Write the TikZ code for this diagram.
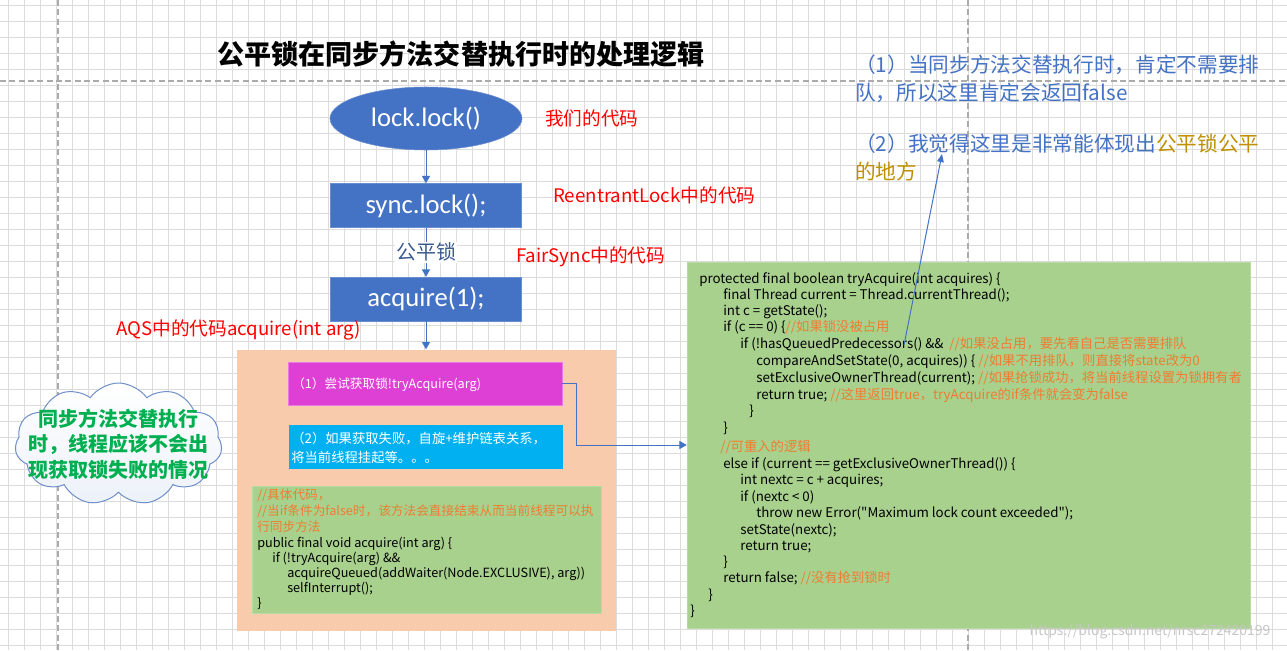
\documentclass[tikz,border=0pt]{standalone}
\usepackage{fontspec}
\setmainfont{Noto Sans CJK SC}[Ligatures=TeXOff]
\newfontfamily\officefont{Carlito}
\usepackage{tikz}
\usetikzlibrary{arrows.meta}
\usetikzlibrary{shapes.geometric,shapes.symbols}
\usetikzlibrary{positioning}

\definecolor{officeBlue}{HTML}{4472C4}
\definecolor{peachBox}{HTML}{F8CBAD}
\definecolor{cyanBox}{HTML}{00B0F0}
\definecolor{magentaBox}{HTML}{DE3FD5}
\definecolor{codeGreen}{HTML}{A9D18E}
\definecolor{commentOrange}{HTML}{ED7D31}
\definecolor{goldText}{HTML}{BF9000}
\definecolor{labelBlue}{HTML}{3B5A8F}
\definecolor{cloudGreen}{HTML}{00B050}
\definecolor{cloudBlue}{HTML}{6F8FC8}
\definecolor{gridGray}{HTML}{DCDCDC}
\definecolor{pageGray}{HTML}{ABABAB}

\begin{document}
\begin{tikzpicture}[x=0.75pt,y=-0.75pt]
    \newcommand{\codenote}[1]{\textcolor{commentOrange}{#1}}
    \tikzstyle{gridline}=[draw=gridGray, line width=0.75pt]
    \tikzstyle{pageline}=[draw=pageGray, line width=0.9pt, dash pattern=on 4.5pt off 2.5pt]
    \tikzstyle{flowedge}=[line width=0.75pt, draw=officeBlue, -{Triangle[width=6pt,length=5.5pt]}]
    \tikzstyle{flowbox}=[
      rectangle,
      fill=officeBlue,
      draw=officeBlue!80!white,
      text=white,
      minimum width=143.25pt,
      minimum height=33pt,
      font=\officefont\fontsize{20}{23}\selectfont,
    ]
    \tikzstyle{redtext}=[anchor=west, inner sep=0pt, text=red, font=\fontsize{14}{17}\selectfont]
    \tikzstyle{notetext}=[anchor=west, inner sep=0pt, align=left, text=officeBlue, font=\fontsize{15.5}{21}\selectfont]
    \tikzstyle{codeline}=[anchor=base west, inner sep=0pt, font=\fontsize{10}{12}\selectfont]
    \tikzstyle{smallcode}=[codeline, font=\fontsize{9.5}{11.6}\selectfont]

    \useasboundingbox (0,0) rectangle (1287,650);
    \fill[white] (0,0) rectangle (1287,650);

    % sheet grid
    {
      \foreach \gx in {8,24,...,1287} \draw[gridline] (\gx,0) -- (\gx,650);
      \foreach \gy in {5.5,21.5,...,650} \draw[gridline] (0,\gy) -- (1287,\gy);
      \draw[pageline] (58,0) -- (58,650);
      \draw[pageline] (968,0) -- (968,650);
      \draw[pageline] (0,81) -- (1287,81);
    }

    \node[font=\bfseries\fontsize{20.3}{24}\selectfont] (title) at (461,54) {公平锁在同步方法交替执行时的处理逻辑};

    % flow
    {
      \node[flowbox, ellipse, minimum width=144pt, minimum height=47.25pt] (lockNode) at (426,118.5) {lock.lock()};
      \node[flowbox, below=24.75pt of lockNode] (syncNode) {sync.lock();};
      \node[flowbox, below=36.75pt of syncNode] (acquireNode) {acquire(1);};

      \node[redtext] (ourCode) at (545,118) {我们的代码};
      \node[redtext] (reentrantCode) at (553,195) {ReentrantLock中的代码};
      \node[redtext] (fairCode) at (516,257) {FairSync中的代码};
      \node[redtext] (aqsCode) at (116,330) {AQS中的代码acquire(int arg)};

      \draw[flowedge] (lockNode)--(syncNode);
      \draw[flowedge] (syncNode)--(acquireNode) node[midway, fill=white, inner sep=1pt, text=labelBlue, font=\fontsize{15}{17}\selectfont] (fairLabel) {公平锁};
    }

    % AQS acquire
    {
      \node[rectangle, fill=peachBox, minimum width=284.25pt, minimum height=210.75pt, below=21pt of acquireNode] (aqsBox) {};
      \node[rectangle, fill=magentaBox, draw=magentaBox!70!white, minimum width=205.5pt, minimum height=32.25pt] (tryBox) at (425,383.5) {};
      \node[rectangle, fill=cyanBox, minimum width=205.5pt, minimum height=33pt] (failBox) at (426,447) {};
      \node[rectangle, fill=codeGreen, draw=codeGreen!80!white, minimum width=261.75pt, minimum height=95.25pt] (aqsCodeBox) at (426.5,549.5) {};

      \node[codeline, text=white, font=\fontsize{9.5}{11}\selectfont] (tryText) at (292,388) {（1）尝试获取锁!tryAcquire(arg)};
      \node[codeline, text=white] (failText1) at (291,443) {（2）如果获取失败，自旋+维护链表关系，};
      \node[codeline, text=white] (failText2) at (291,462) {将当前线程挂起等。。。};

      \node[smallcode] (aqs1) at (257,499) {\codenote{//具体代码，}};
      \node[smallcode] (aqs2) at (257,515) {\codenote{//当if条件为false时，该方法会直接结束从而当前线程可以执}};
      \node[smallcode] (aqs3) at (257,531) {\codenote{行同步方法}};
      \node[smallcode] (aqs4) at (257,547) {public final void acquire(int arg) \{};
      \node[smallcode] (aqs5) at (272,562) {if (!tryAcquire(arg) \&\&};
      \node[smallcode] (aqs6) at (287,577) {acquireQueued(addWaiter(Node.EXCLUSIVE), arg))};
      \node[smallcode] (aqs7) at (287,592) {selfInterrupt();};
      \node[smallcode] (aqs8) at (257,607) {\}};

      \draw[flowedge] (acquireNode)--(aqsBox);
    }

    % tryAcquire code
    {
      \node[rectangle, fill=codeGreen, draw=codeGreen!80!white, minimum width=422.25pt, minimum height=274.5pt] (codeBox) at (968.5,445) {};

      \node[codeline] (try1) at (699,283) {protected final boolean tryAcquire(int acquires) \{};
      \node[codeline] (try2) at (723,299) {final Thread current = Thread.currentThread();};
      \node[codeline] (try3) at (723,315) {int c = getState();};
      \node[codeline] (try4) at (723,331) {if (c == 0) \{\codenote{//如果锁没被占用}};
      \node[codeline] (try5) at (740,348) {if (!hasQueuedPredecessors() \&\&\ \ \codenote{//如果没占用，要先看自己是否需要排队}};
      \node[codeline] (try6) at (756,365) {compareAndSetState(0, acquires)) \{ \codenote{//如果不用排队，则直接将state改为0}};
      \node[codeline] (try7) at (756,382) {setExclusiveOwnerThread(current); \codenote{//如果抢锁成功，将当前线程设置为锁拥有者}};
      \node[codeline] (try8) at (756,399) {return true; \codenote{//这里返回true，tryAcquire的if条件就会变为false}};
      \node[codeline] (try9) at (749,415) {\}};
      \node[codeline] (try10) at (723,432) {\}};
      \node[codeline] (try11) at (720,451) {\codenote{//可重入的逻辑}};
      \node[codeline] (try12) at (723,468) {else if (current == getExclusiveOwnerThread()) \{};
      \node[codeline] (try13) at (740,484) {int nextc = c + acquires;};
      \node[codeline] (try14) at (740,501) {if (nextc < 0)};
      \node[codeline] (try15) at (756,517) {throw new Error("Maximum lock count exceeded");};
      \node[codeline] (try16) at (740,534) {setState(nextc);};
      \node[codeline] (try17) at (740,550) {return true;};
      \node[codeline] (try18) at (723,566) {\}};
      \node[codeline] (try19) at (723,582) {return false; \codenote{//没有抢到锁时}};
      \node[codeline] (try20) at (708,599) {\}};
      \node[codeline] (try21) at (690,615) {\}};

      \draw[flowedge] (tryBox.east) -- ++(14,0) |- (codeBox.west);
    }

    % notes
    {
      \node[notetext] (note1) at (855,79) {（1）当同步方法交替执行时，肯定不需要排\\队，所以这里肯定会返回false};
      \node[notetext] (note2) at (855,157.5) {（2）我觉得这里是非常能体现出\textcolor{goldText}{公平锁公平}\\\textcolor{goldText}{的地方}};

      \coordinate (fairStart) at (904,345);
      \coordinate (fairEnd) at (942,154);
      \draw[flowedge, -{Triangle[width=5pt,length=6pt]}] (fairStart)--(fairEnd);
    }

    % cloud
    {
      \node[cloud, cloud puffs=11, cloud puff arc=110, cloud ignores aspect, draw=cloudBlue, line width=0.75pt, top color=white, bottom color=officeBlue!10, minimum width=155.25pt, minimum height=91.5pt, inner sep=0pt] (cloudShape) at (118.5,444) {};
      \node[align=center, text=cloudGreen, font=\bfseries\fontsize{15}{19}\selectfont] (cloudText) at (cloudShape.center) {同步方法交替执行\\时，线程应该不会出\\现获取锁失败的情况};
    }

    \node[text=gray!45, font=\fontsize{10.5}{12}\selectfont] (watermark) at (1150,632) {https://blog.csdn.net/nrsc272420199};
\end{tikzpicture}
\end{document}
